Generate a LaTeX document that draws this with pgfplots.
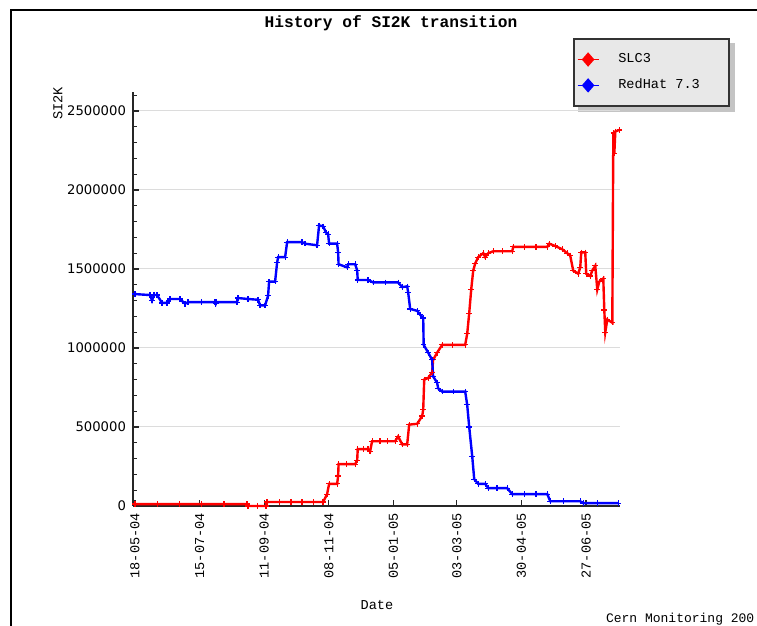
\documentclass[border=0pt]{standalone}
\usepackage{fontspec}
\setmainfont{Liberation Mono}
\newfontfamily\ticksans{DejaVu Sans}
\usepackage{pgfplots}
\pgfplotsset{compat=1.18}
\usetikzlibrary{backgrounds}
\definecolor{legfill}{HTML}{E8E8E8}
\definecolor{legshadow}{HTML}{C4C4C4}
\definecolor{gridc}{HTML}{DCDCDC}
\begin{document}
\begin{tikzpicture}
\begin{axis}[
  at={(66.5pt,60pt)}, anchor=south west,
  scale only axis, width=243.5pt, height=207pt,
  xmin=-1.8, xmax=435.5, ymin=0, ymax=2620000,
  axis x line=bottom, axis y line=left,
  axis line style={-, black!85, line width=0.8pt},
  tick align=inside,
  tick style={black!85, line width=0.6pt},
  xtick={0,58,116,174,232,289,347,405},
  xticklabels={18-05-04,15-07-04,11-09-04,08-11-04,05-01-05,03-03-05,30-04-05,27-06-05},
  x tick label style={rotate=90, anchor=east, font=\fontsize{6.8}{7}\selectfont},
  xtick pos=bottom, ytick pos=left,
  ytick={0,500000,1000000,1500000,2000000,2500000},
  minor ytick={100000,200000,300000,400000,600000,700000,800000,900000,1100000,1200000,1300000,1400000,1600000,1700000,1800000,1900000,2100000,2200000,2300000,2400000,2600000},
  major tick length=3pt, minor tick length=2.2pt,
  scaled y ticks=false,
  yticklabel style={font=\ticksans\fontsize{6.6}{7}\selectfont, /pgf/number format/fixed, /pgf/number format/1000 sep={}, /pgf/number format/precision=0, /pgf/number format/assume math mode=true},
  ymajorgrids, grid style={gridc, line width=0.5pt},
  xlabel={Date}, xlabel style={at={(axis description cs:0.501,-0.239)}, anchor=center, font=\fontsize{6.8}{7}\selectfont},
  ylabel={SI2K}, ylabel style={at={(axis description cs:-0.154,0.973)}, anchor=center, font=\fontsize{6.8}{7}\selectfont},
  legend style={name=leg, at={(axis description cs:0.9035,1.13)}, anchor=north west,
    fill=legfill, draw=black!80, line width=0.9pt,
    font=\fontsize{6.8}{8}\selectfont, inner xsep=1.5pt, inner ysep=5.2pt,
    row sep=2.7pt},
  legend cell align=left,
  legend image code/.code={\draw[#1, line width=0.7pt, mark=none] (0pt,0pt) -- (10.5pt,0pt);
    \fill[#1, mark=none] (5.25pt,2.7pt) -- (7.6pt,0pt) -- (5.25pt,-2.7pt) -- (2.9pt,0pt) -- cycle;},
  /tikz/every odd column/.append style={column sep=7.5pt},
  clip=false,
]
\addplot[red, line width=1.2pt, mark=+, mark size=1.4pt, mark options={line width=0.6pt}] coordinates {
(0,12000) (20,12000) (40,12000) (60,12000) (80,12000) (100.6,12000) (101.5,0) (110,0) (117.7,0) (118.6,25000) (130,25000) (140,25000) (150,25000) (160,25000) (168.9,25000)
(172.5,75000) (174.3,140000) (181.5,140000) (182.4,190000) (182.8,265000) (190,265000) (197.7,265000) (199.5,290000) (200,360000) (205,360000) (209.3,360000) (211.1,345000) (212.9,410000) (220,410000) (227,410000) (233.6,410000)
(236.3,440000) (239.9,390000) (244.4,390000) (246.2,515000) (253.4,520000) (257.9,570000) (258.8,610000) (259.7,800000) (263.3,810000) (266.8,845000) (267.7,925000) (271.3,970000) (275.8,1020000) (285,1020000) (296.5,1020000)
(298.3,1090000) (300.1,1220000) (301.9,1370000) (303.7,1490000) (305.5,1535000) (308.2,1575000) (312.7,1600000) (314.5,1575000) (317.2,1600000) (321.7,1612000) (330,1612000) (338.7,1612000) (339.6,1640000) (350,1640000) (360,1640000) (370.2,1640000)
(372,1660000) (377.4,1645000) (383.6,1625000) (388.1,1600000) (390.8,1585000) (393.5,1490000) (398,1470000) (399.8,1510000) (400.7,1605000) (404.3,1605000) (405.2,1470000) (408.8,1455000) (410.6,1490000) (413.3,1520000)
(415.1,1370000) (416.9,1420000) (420.5,1440000) (421.4,1240000) (422.3,1100000) (424.1,1180000) (428.6,1160000) (429.5,2360000) (430.4,2230000) (431.3,2370000) (434.9,2380000)
};
\addlegendentry{\makebox[52pt][l]{SLC3}}
\addplot[blue, line width=1.2pt, mark=+, mark size=1.4pt, mark options={line width=0.6pt}] coordinates {
(0,1341000) (13.5,1335000) (15.3,1300000) (17,1335000) (19.8,1335000) (24.3,1285000) (28.8,1285000) (31.4,1310000) (40.4,1310000) (44.9,1280000) (47.6,1290000) (60,1290000) (71.9,1290000) (72.5,1280000) (73,1290000) (91.6,1290000)
(92.5,1316000) (101.5,1310000) (110.5,1305000) (112.3,1270000) (116.8,1270000) (119.5,1330000) (120.4,1420000) (125.8,1420000) (127.6,1540000) (128.5,1575000) (134.8,1575000) (136.6,1670000) (150,1670000) (152.7,1660000) (163.5,1650000)
(165.3,1776000) (168.9,1770000) (171.6,1730000) (173.4,1720000) (174.3,1660000) (181.5,1660000) (182.4,1605000) (182.8,1530000) (190.5,1510000) (191.4,1530000) (197.7,1530000) (199.5,1490000) (200,1430000) (209.3,1430000) (213.8,1415000) (225,1415000) (236.3,1415000)
(239.9,1385000) (244.4,1390000) (245.3,1350000) (247.1,1247000) (253.4,1235000) (256.1,1210000) (258.8,1190000) (259.2,1020000) (263.3,970000) (266.8,925000) (267.7,820000) (271.3,780000) (272.2,745000) (275.8,724000) (286,724000) (296.5,724000)
(298.3,640000) (300.1,500000) (302.8,315000) (304.6,170000) (308.2,140000) (314.5,140000) (317.2,113000) (325,113000) (334.2,113000) (338.7,75000) (350,75000) (360,75000) (370.2,75000) (372.9,30000) (385,30000) (399.8,30000) (402.5,18000) (415,18000) (434,18000)
};
\addlegendentry{\makebox[52pt][l]{RedHat 7.3}}
\end{axis}
\begin{scope}[on background layer]
\fill[legshadow] ([shift={(2.6pt,-2.6pt)}]leg.south west) rectangle ([shift={(2.6pt,-2.6pt)}]leg.north east);
\end{scope}
\node[font=\bfseries\fontsize{8.1}{9}\selectfont] at (195.5pt,301.5pt) {History of SI2K transition};
\node[anchor=base west, font=\fontsize{6.5}{7}\selectfont] at (299.5pt,1.5pt) {Cern Monitoring 200};
\draw[line width=1pt, black] (5.5pt,-1pt) -- (5.5pt,308pt) -- (380pt,308pt);
\pgfresetboundingbox
\path[use as bounding box] (0,0) rectangle (378.5pt,313pt);
\end{tikzpicture}
\end{document}
